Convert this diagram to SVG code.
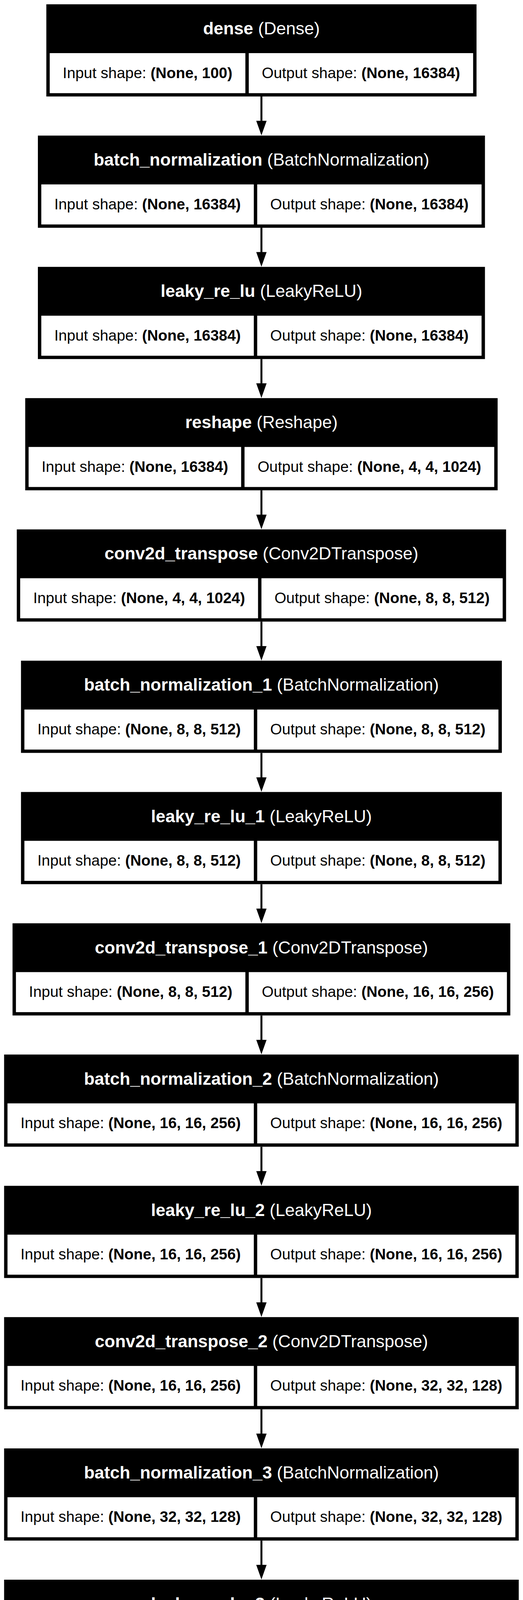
<svg xmlns="http://www.w3.org/2000/svg" width="1339" height="4628" viewBox="0 0 1339 4628">
<style>
.box{fill:#000}
.cell{fill:#fff}
.hdr{font-family:"Liberation Sans",Arial,sans-serif;font-size:44.44px;fill:#fff;text-anchor:middle}
.lbl{font-family:"Liberation Sans",Arial,sans-serif;font-size:38.89px;fill:#000;text-anchor:middle}
.b{font-weight:bold}
.edge{stroke:#000;stroke-width:5;fill:none}
</style>
<defs>
<marker id="arrow" markerUnits="userSpaceOnUse" viewBox="0 0 37.4 26.6" refX="0.5" refY="13.3" markerWidth="37.4" markerHeight="26.6" orient="auto">
<path d="M0,0 L37.4,13.3 L0,26.6 Z" fill="#000"/>
</marker>
</defs>
<rect x="0" y="0" width="1339" height="4628" fill="#fff"/>
<g id="connectors">
<line class="edge" x1="669.3" y1="247" x2="669.3" y2="309.7" marker-end="url(#arrow)"/>
<line class="edge" x1="669.3" y1="583.1" x2="669.3" y2="645.8" marker-end="url(#arrow)"/>
<line class="edge" x1="669.3" y1="919.2" x2="669.3" y2="981.8" marker-end="url(#arrow)"/>
<line class="edge" x1="669.3" y1="1255.2" x2="669.3" y2="1317.9" marker-end="url(#arrow)"/>
<line class="edge" x1="669.3" y1="1591.3" x2="669.3" y2="1654.0" marker-end="url(#arrow)"/>
<line class="edge" x1="669.3" y1="1927.4" x2="669.3" y2="1990.1" marker-end="url(#arrow)"/>
<line class="edge" x1="669.3" y1="2263.5" x2="669.3" y2="2326.2" marker-end="url(#arrow)"/>
<line class="edge" x1="669.3" y1="2599.6" x2="669.3" y2="2662.2" marker-end="url(#arrow)"/>
<line class="edge" x1="669.3" y1="2935.6" x2="669.3" y2="2998.3" marker-end="url(#arrow)"/>
<line class="edge" x1="669.3" y1="3271.7" x2="669.3" y2="3334.4" marker-end="url(#arrow)"/>
<line class="edge" x1="669.3" y1="3607.8" x2="669.3" y2="3670.5" marker-end="url(#arrow)"/>
<line class="edge" x1="669.3" y1="3943.9" x2="669.3" y2="4006.6" marker-end="url(#arrow)"/>
<line class="edge" x1="669.3" y1="4280.0" x2="669.3" y2="4342.6" marker-end="url(#arrow)"/>
</g>
<g id="dense">
<rect class="box" x="118.6" y="11" width="1101.4" height="236"/>
<rect class="cell" x="127.3" y="136" width="500.9" height="102.5"/>
<rect class="cell" x="636.9" y="136" width="574.4" height="102.5"/>
<text class="hdr" x="669.3" y="88"><tspan class="b">dense</tspan> (Dense)</text>
<text class="lbl" x="377.75" y="199.5">Input shape: <tspan class="b">(None, 100)</tspan></text>
<text class="lbl" x="924.1" y="199.5">Output shape: <tspan class="b">(None, 16384)</tspan></text>
</g>
<g id="batch_normalization">
<rect class="box" x="97.0" y="347.1" width="1144.6" height="236"/>
<rect class="cell" x="105.7" y="472.1" width="544.1" height="102.5"/>
<rect class="cell" x="658.5" y="472.1" width="574.4" height="102.5"/>
<text class="hdr" x="669.3" y="424.1"><tspan class="b">batch_normalization</tspan> (BatchNormalization)</text>
<text class="lbl" x="377.75" y="535.6">Input shape: <tspan class="b">(None, 16384)</tspan></text>
<text class="lbl" x="945.7" y="535.6">Output shape: <tspan class="b">(None, 16384)</tspan></text>
</g>
<g id="leaky_re_lu">
<rect class="box" x="97.0" y="683.2" width="1144.6" height="236"/>
<rect class="cell" x="105.7" y="808.2" width="544.1" height="102.5"/>
<rect class="cell" x="658.5" y="808.2" width="574.4" height="102.5"/>
<text class="hdr" x="669.3" y="760.2"><tspan class="b">leaky_re_lu</tspan> (LeakyReLU)</text>
<text class="lbl" x="377.75" y="871.7">Input shape: <tspan class="b">(None, 16384)</tspan></text>
<text class="lbl" x="945.7" y="871.7">Output shape: <tspan class="b">(None, 16384)</tspan></text>
</g>
<g id="reshape">
<rect class="box" x="64.55" y="1019.2" width="1209.5" height="236"/>
<rect class="cell" x="73.25" y="1144.2" width="544.1" height="102.5"/>
<rect class="cell" x="626.05" y="1144.2" width="639.3" height="102.5"/>
<text class="hdr" x="669.3" y="1096.2"><tspan class="b">reshape</tspan> (Reshape)</text>
<text class="lbl" x="345.3" y="1207.7">Input shape: <tspan class="b">(None, 16384)</tspan></text>
<text class="lbl" x="945.7" y="1207.7">Output shape: <tspan class="b">(None, 4, 4, 1024)</tspan></text>
</g>
<g id="conv2d_transpose">
<rect class="box" x="42.95" y="1355.3" width="1252.7" height="236"/>
<rect class="cell" x="51.65" y="1480.3" width="609.0" height="102.5"/>
<rect class="cell" x="669.35" y="1480.3" width="617.6" height="102.5"/>
<text class="hdr" x="669.3" y="1432.3"><tspan class="b">conv2d_transpose</tspan> (Conv2DTranspose)</text>
<text class="lbl" x="356.15" y="1543.8">Input shape: <tspan class="b">(None, 4, 4, 1024)</tspan></text>
<text class="lbl" x="978.15" y="1543.8">Output shape: <tspan class="b">(None, 8, 8, 512)</tspan></text>
</g>
<g id="batch_normalization_1">
<rect class="box" x="53.75" y="1691.4" width="1231.1" height="236"/>
<rect class="cell" x="62.45" y="1816.4" width="587.4" height="102.5"/>
<rect class="cell" x="658.55" y="1816.4" width="617.6" height="102.5"/>
<text class="hdr" x="669.3" y="1768.4"><tspan class="b">batch_normalization_1</tspan> (BatchNormalization)</text>
<text class="lbl" x="356.15" y="1879.9">Input shape: <tspan class="b">(None, 8, 8, 512)</tspan></text>
<text class="lbl" x="967.35" y="1879.9">Output shape: <tspan class="b">(None, 8, 8, 512)</tspan></text>
</g>
<g id="leaky_re_lu_1">
<rect class="box" x="53.75" y="2027.5" width="1231.1" height="236"/>
<rect class="cell" x="62.45" y="2152.5" width="587.4" height="102.5"/>
<rect class="cell" x="658.55" y="2152.5" width="617.6" height="102.5"/>
<text class="hdr" x="669.3" y="2104.5"><tspan class="b">leaky_re_lu_1</tspan> (LeakyReLU)</text>
<text class="lbl" x="356.15" y="2216.0">Input shape: <tspan class="b">(None, 8, 8, 512)</tspan></text>
<text class="lbl" x="967.35" y="2216.0">Output shape: <tspan class="b">(None, 8, 8, 512)</tspan></text>
</g>
<g id="conv2d_transpose_1">
<rect class="box" x="32.1" y="2363.6" width="1274.4" height="236"/>
<rect class="cell" x="40.8" y="2488.6" width="587.4" height="102.5"/>
<rect class="cell" x="636.9" y="2488.6" width="660.9" height="102.5"/>
<text class="hdr" x="669.3" y="2440.6"><tspan class="b">conv2d_transpose_1</tspan> (Conv2DTranspose)</text>
<text class="lbl" x="334.5" y="2552.1">Input shape: <tspan class="b">(None, 8, 8, 512)</tspan></text>
<text class="lbl" x="967.35" y="2552.1">Output shape: <tspan class="b">(None, 16, 16, 256)</tspan></text>
</g>
<g id="batch_normalization_2">
<rect class="box" x="10.5" y="2699.6" width="1317.6" height="236"/>
<rect class="cell" x="19.2" y="2824.6" width="630.6" height="102.5"/>
<rect class="cell" x="658.5" y="2824.6" width="660.9" height="102.5"/>
<text class="hdr" x="669.3" y="2776.6"><tspan class="b">batch_normalization_2</tspan> (BatchNormalization)</text>
<text class="lbl" x="334.5" y="2888.1">Input shape: <tspan class="b">(None, 16, 16, 256)</tspan></text>
<text class="lbl" x="988.95" y="2888.1">Output shape: <tspan class="b">(None, 16, 16, 256)</tspan></text>
</g>
<g id="leaky_re_lu_2">
<rect class="box" x="10.5" y="3035.7" width="1317.6" height="236"/>
<rect class="cell" x="19.2" y="3160.7" width="630.6" height="102.5"/>
<rect class="cell" x="658.5" y="3160.7" width="660.9" height="102.5"/>
<text class="hdr" x="669.3" y="3112.7"><tspan class="b">leaky_re_lu_2</tspan> (LeakyReLU)</text>
<text class="lbl" x="334.5" y="3224.2">Input shape: <tspan class="b">(None, 16, 16, 256)</tspan></text>
<text class="lbl" x="988.95" y="3224.2">Output shape: <tspan class="b">(None, 16, 16, 256)</tspan></text>
</g>
<g id="conv2d_transpose_2">
<rect class="box" x="10.5" y="3371.8" width="1317.6" height="236"/>
<rect class="cell" x="19.2" y="3496.8" width="630.6" height="102.5"/>
<rect class="cell" x="658.5" y="3496.8" width="660.9" height="102.5"/>
<text class="hdr" x="669.3" y="3448.8"><tspan class="b">conv2d_transpose_2</tspan> (Conv2DTranspose)</text>
<text class="lbl" x="334.5" y="3560.3">Input shape: <tspan class="b">(None, 16, 16, 256)</tspan></text>
<text class="lbl" x="988.95" y="3560.3">Output shape: <tspan class="b">(None, 32, 32, 128)</tspan></text>
</g>
<g id="batch_normalization_3">
<rect class="box" x="10.5" y="3707.9" width="1317.6" height="236"/>
<rect class="cell" x="19.2" y="3832.9" width="630.6" height="102.5"/>
<rect class="cell" x="658.5" y="3832.9" width="660.9" height="102.5"/>
<text class="hdr" x="669.3" y="3784.9"><tspan class="b">batch_normalization_3</tspan> (BatchNormalization)</text>
<text class="lbl" x="334.5" y="3896.4">Input shape: <tspan class="b">(None, 32, 32, 128)</tspan></text>
<text class="lbl" x="988.95" y="3896.4">Output shape: <tspan class="b">(None, 32, 32, 128)</tspan></text>
</g>
<g id="leaky_re_lu_3">
<rect class="box" x="10.5" y="4044.0" width="1317.6" height="236"/>
<rect class="cell" x="19.2" y="4169.0" width="630.6" height="102.5"/>
<rect class="cell" x="658.5" y="4169.0" width="660.9" height="102.5"/>
<text class="hdr" x="669.3" y="4121.0"><tspan class="b">leaky_re_lu_3</tspan> (LeakyReLU)</text>
<text class="lbl" x="334.5" y="4232.5">Input shape: <tspan class="b">(None, 32, 32, 128)</tspan></text>
<text class="lbl" x="988.95" y="4232.5">Output shape: <tspan class="b">(None, 32, 32, 128)</tspan></text>
</g>
<g id="conv2d_transpose_3">
<rect class="box" x="32.15" y="4380.0" width="1274.3" height="236"/>
<rect class="cell" x="40.85" y="4505.0" width="630.6" height="102.5"/>
<rect class="cell" x="680.15" y="4505.0" width="617.6" height="102.5"/>
<text class="hdr" x="669.3" y="4457.0"><tspan class="b">conv2d_transpose_3</tspan> (Conv2DTranspose)</text>
<text class="lbl" x="356.15" y="4568.5">Input shape: <tspan class="b">(None, 32, 32, 128)</tspan></text>
<text class="lbl" x="988.95" y="4568.5">Output shape: <tspan class="b">(None, 64, 64, 1)</tspan></text>
</g>
</svg>
